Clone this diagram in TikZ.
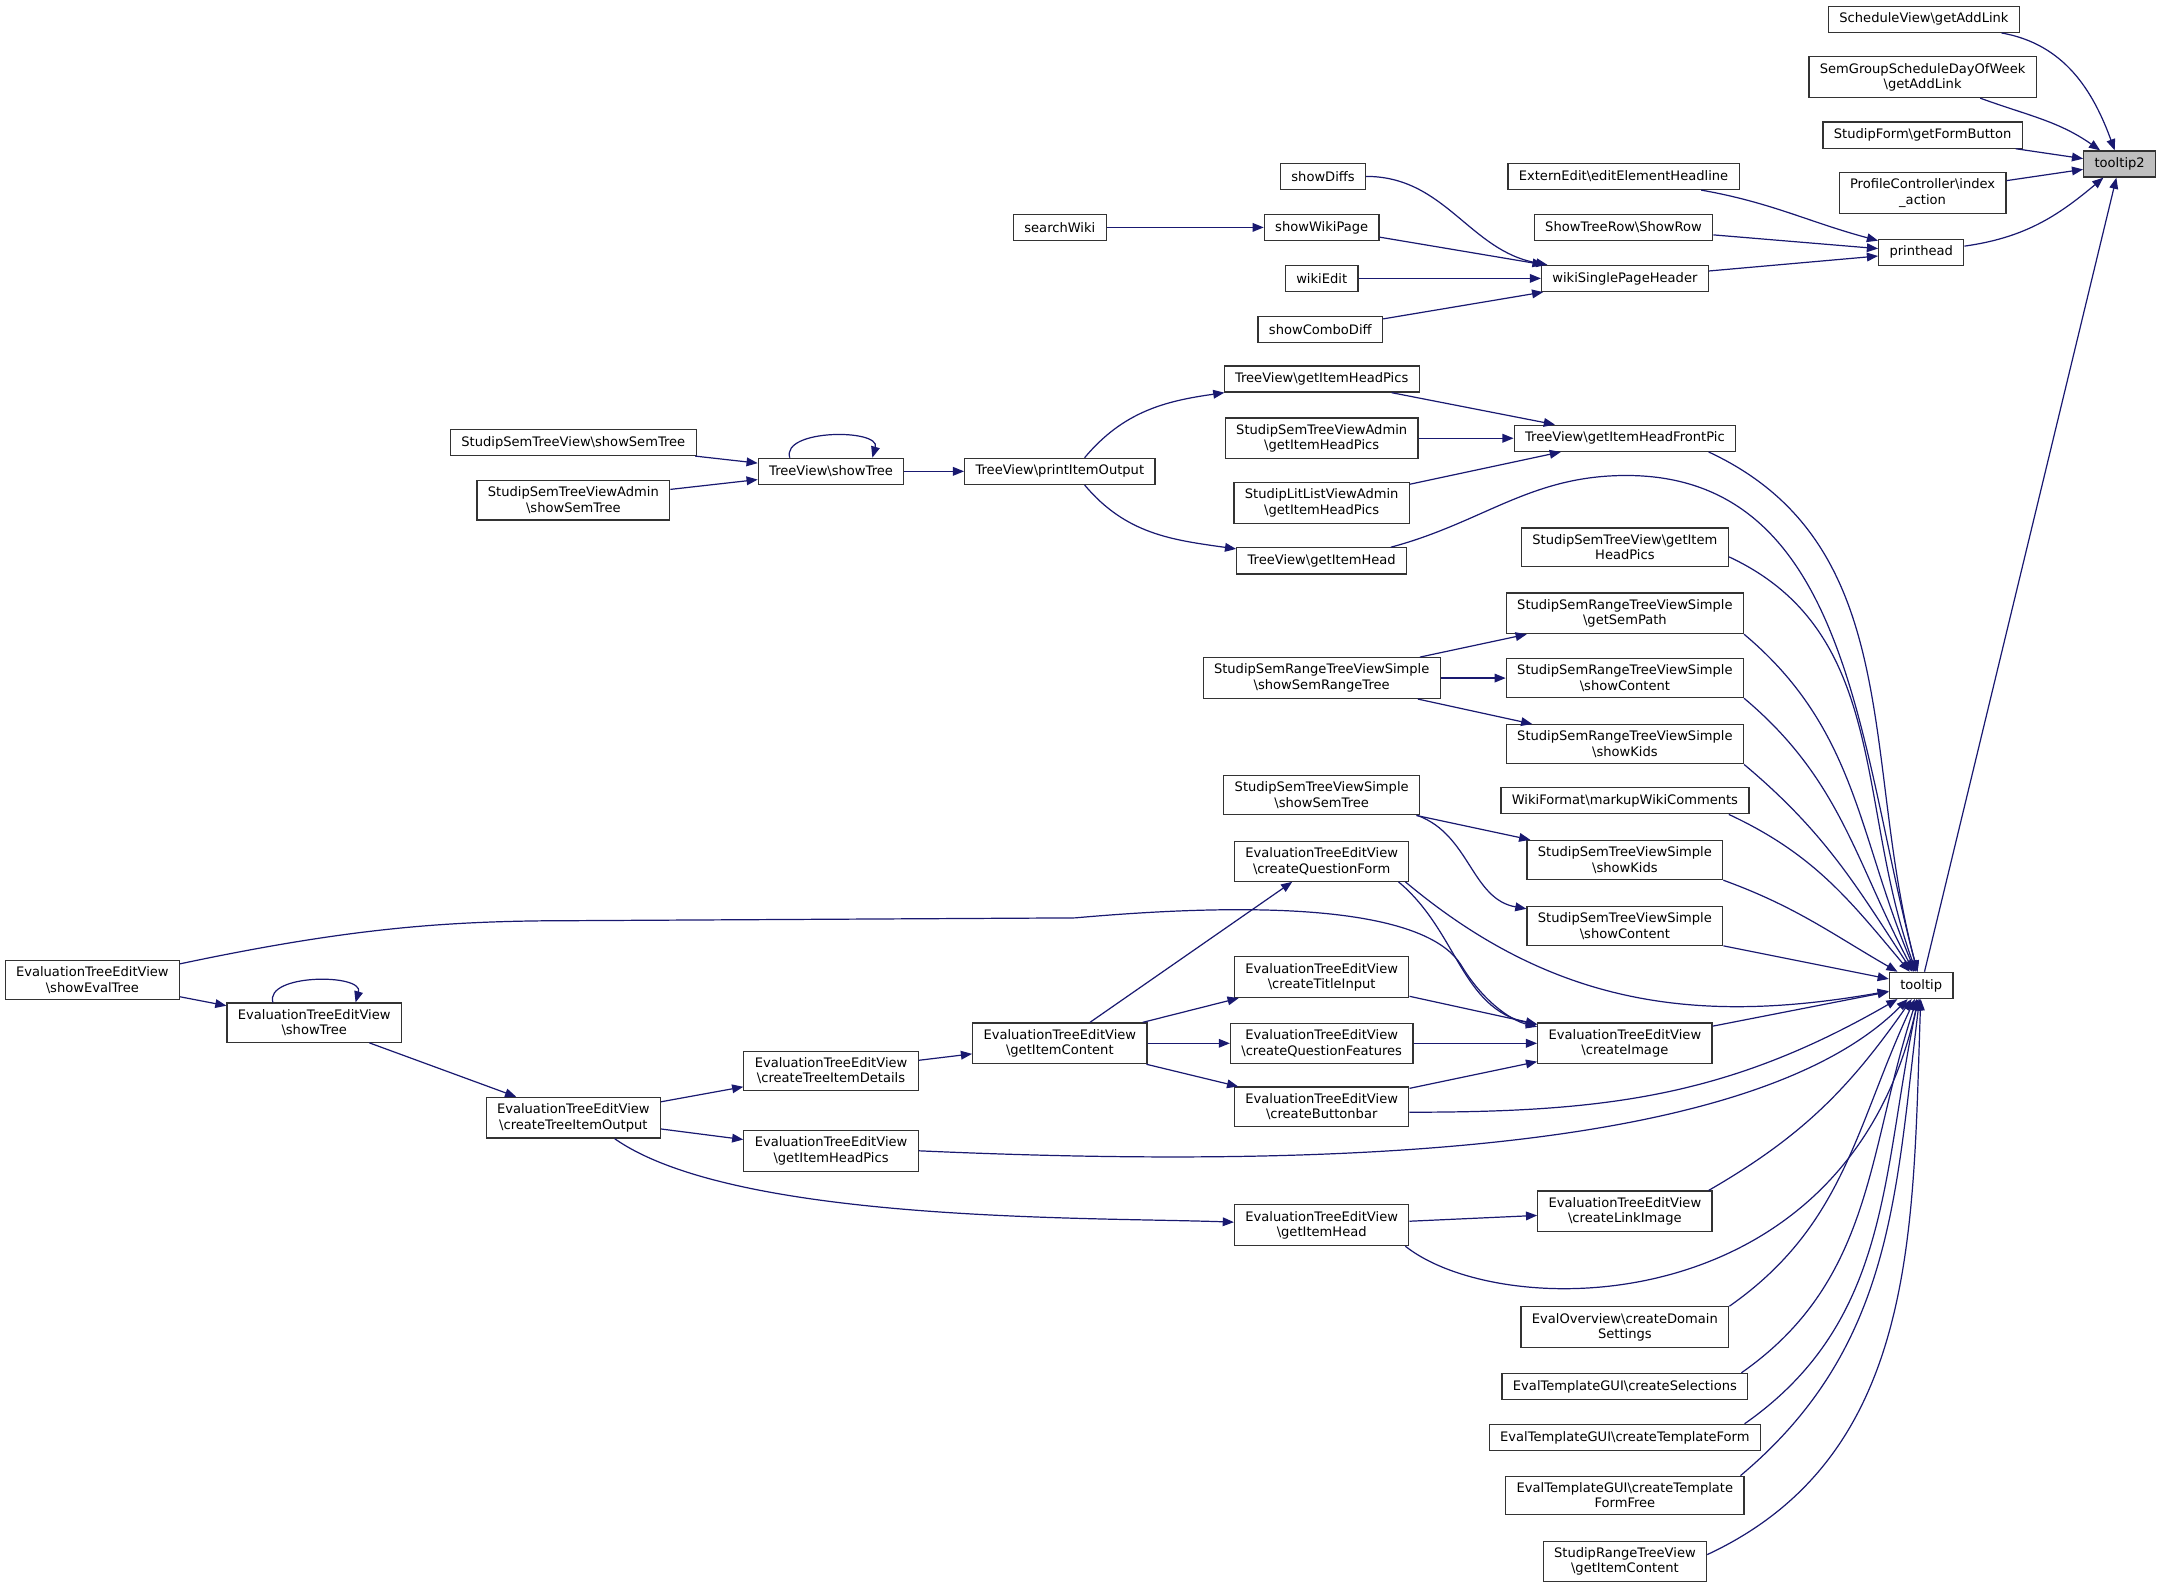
\documentclass[tikz,border=0pt]{standalone}
\usepackage{fontspec}
\setmainfont{DejaVu Sans}
\usepackage{tikz}
\usetikzlibrary{arrows.meta,calc}
\definecolor{edgeblue}{RGB}{25,25,112}
\definecolor{rootgray}{RGB}{191,191,191}

\tikzset{
  fn/.style={draw=black!80, fill=white, line width=0.5pt, font=\fontsize{5.4}{6.4}\selectfont,
    align=center, inner xsep=4.5pt, inner ysep=2.6pt, minimum height=10.8pt},
  root/.style={fn, fill=rootgray},
  call/.style={draw=edgeblue, line width=0.5pt, -{Triangle[length=4.6pt,width=3.6pt]}},
}

\begin{document}
\begin{tikzpicture}[x=0.02cm, y=0.02cm]
    \useasboundingbox (0,0) rectangle (1568,-1153);

    % tooltip2 and its direct callers
    \node[root] (tipii) at (1538,-119) {tooltip2};
    \node[fn] (schedview) at (1396,-14) {ScheduleView\textbackslash getAddLink};
    \node[fn] (semgroup) at (1395,-56) {SemGroupScheduleDayOfWeek\\\textbackslash getAddLink};
    \node[fn] (formbtn) at (1395,-98) {StudipForm\textbackslash getFormButton};
    \node[fn] (profile) at (1395,-140) {ProfileController\textbackslash index\\\_action};
    \node[fn] (printhead) at (1394,-183) {printhead};
    \node[fn] (tip) at (1394,-715) {tooltip};

    % printhead part
    \node[fn] (extern) at (1178,-128) {ExternEdit\textbackslash editElementHeadline};
    \node[fn] (showrow) at (1178,-165) {ShowTreeRow\textbackslash ShowRow};
    \node[fn] (wikihdr) at (1179,-202) {wikiSinglePageHeader};
    \node[fn] (diffs) at (960,-128) {showDiffs};
    \node[fn] (wikipage) at (959,-165) {showWikiPage};
    \node[fn] (wikiedit) at (959,-202) {wikiEdit};
    \node[fn] (combodiff) at (958,-239) {showComboDiff};
    \node[fn] (searchwiki) at (769,-165) {searchWiki};

    % TreeView part
    \node[fn] (tvpics) at (959,-275) {TreeView\textbackslash getItemHeadPics};
    \node[fn] (admpics) at (959,-318) {StudipSemTreeViewAdmin\\\textbackslash getItemHeadPics};
    \node[fn] (frontpic) at (1179,-318) {TreeView\textbackslash getItemHeadFrontPic};
    \node[fn] (litpics) at (959,-365) {StudipLitListViewAdmin\\\textbackslash getItemHeadPics};
    \node[fn] (tvhead) at (959,-407) {TreeView\textbackslash getItemHead};
    \node[fn] (tvoutput) at (769,-342) {TreeView\textbackslash printItemOutput};
    \node[fn] (tvshow) at (603,-342) {TreeView\textbackslash showTree};
    \node[fn] (semtree) at (416,-321) {StudipSemTreeView\textbackslash showSemTree};
    \node[fn] (admtree) at (416,-363) {StudipSemTreeViewAdmin\\\textbackslash showSemTree};

    % Studip range tree and simple tree
    \node[fn] (sempics) at (1179,-397) {StudipSemTreeView\textbackslash getItem\\HeadPics};
    \node[fn] (sempath) at (1179,-445) {StudipSemRangeTreeViewSimple\\\textbackslash getSemPath};
    \node[fn] (rangetree) at (959,-492) {StudipSemRangeTreeViewSimple\\\textbackslash showSemRangeTree};
    \node[fn] (rangecontent) at (1179,-492) {StudipSemRangeTreeViewSimple\\\textbackslash showContent};
    \node[fn] (rangekids) at (1179,-540) {StudipSemRangeTreeViewSimple\\\textbackslash showKids};
    \node[fn] (simpletree) at (959,-577) {StudipSemTreeViewSimple\\\textbackslash showSemTree};
    \node[fn] (markup) at (1179,-581) {WikiFormat\textbackslash markupWikiComments};
    \node[fn] (simplekids) at (1179,-624) {StudipSemTreeViewSimple\\\textbackslash showKids};
    \node[fn] (simplecontent) at (1179,-672) {StudipSemTreeViewSimple\\\textbackslash showContent};

    % EvaluationTreeEditView part
    \node[fn] (qform) at (959,-625) {EvaluationTreeEditView\\\textbackslash createQuestionForm};
    \node[fn] (evaltree) at (67,-711) {EvaluationTreeEditView\\\textbackslash showEvalTree};
    \node[fn] (evalshow) at (228,-742) {EvaluationTreeEditView\\\textbackslash showTree};
    \node[fn] (titleinput) at (959,-709) {EvaluationTreeEditView\\\textbackslash createTitleInput};
    \node[fn] (image) at (1179,-757) {EvaluationTreeEditView\\\textbackslash createImage};
    \node[fn] (content) at (769,-757) {EvaluationTreeEditView\\\textbackslash getItemContent};
    \node[fn] (features) at (959,-757) {EvaluationTreeEditView\\\textbackslash createQuestionFeatures};
    \node[fn] (details) at (603,-777) {EvaluationTreeEditView\\\textbackslash createTreeItemDetails};
    \node[fn] (buttonbar) at (959,-803) {EvaluationTreeEditView\\\textbackslash createButtonbar};
    \node[fn] (output) at (416,-811) {EvaluationTreeEditView\\\textbackslash createTreeItemOutput};
    \node[fn] (evalpics) at (603,-835) {EvaluationTreeEditView\\\textbackslash getItemHeadPics};
    \node[fn] (linkimage) at (1179,-879) {EvaluationTreeEditView\\\textbackslash createLinkImage};
    \node[fn] (evalhead) at (959,-889) {EvaluationTreeEditView\\\textbackslash getItemHead};

    % Eval templates
    \node[fn] (domain) at (1179,-963) {EvalOverview\textbackslash createDomain\\Settings};
    \node[fn] (selections) at (1179,-1006) {EvalTemplateGUI\textbackslash createSelections};
    \node[fn] (tplform) at (1179,-1043) {EvalTemplateGUI\textbackslash createTemplateForm};
    \node[fn] (tplfree) at (1179,-1085) {EvalTemplateGUI\textbackslash createTemplate\\FormFree};
    \node[fn] (rangeitem) at (1179,-1133) {StudipRangeTreeView\\\textbackslash getItemContent};

    % calls into tooltip2
    \draw[call] (schedview) to[out=-10,in=110] (tipii);
    \draw[call] (semgroup) to[out=-20,in=145] (tipii);
    \draw[call] (formbtn) -- (tipii);
    \draw[call] (profile) -- (tipii);
    \draw[call] (printhead) to[out=8,in=-140] (tipii);
    \draw[call] (tip) -- (tipii);

    % calls into printhead
    \draw[call] (extern) to[out=-10,in=165] (printhead);
    \draw[call] (showrow) -- (printhead);
    \draw[call] (wikihdr) -- (printhead);
    \draw[call] (diffs) to[out=0,in=170] (wikihdr);
    \draw[call] (wikipage) -- (wikihdr);
    \draw[call] (wikiedit) -- (wikihdr);
    \draw[call] (combodiff) -- (wikihdr);
    \draw[call] (searchwiki) -- (wikipage);

    % TreeView calls
    \draw[call] (tvpics) -- (frontpic);
    \draw[call] (admpics) -- (frontpic);
    \draw[call] (litpics) -- (frontpic);
    \draw[call] ($(tvoutput.north)+(18,0)$) to[out=50,in=-172] (tvpics);
    \draw[call] ($(tvoutput.south)+(18,0)$) to[out=-50,in=172] (tvhead);
    \draw[call] (tvshow) -- (tvoutput);
    \draw[call] ($(tvshow.north)+(-30,0)$) .. controls +(-6,21) and +(6,21) .. ($(tvshow.north)+(30,0)$);
    \draw[call] (semtree) -- (tvshow);
    \draw[call] (admtree) -- (tvshow);

    % range tree and simple tree calls
    \draw[call] (rangetree) -- (sempath);
    \draw[call] (rangetree) -- (rangecontent);
    \draw[call] (rangetree) -- (rangekids);
    \draw[call] (simpletree) -- (simplekids);
    \draw[call] ($(simpletree.south east)+(-2,0)$) to[out=-20,in=170] (simplecontent);

    % calls into tooltip from above
    \draw[call] ($(frontpic.south east)+(-20,0)$) to[out=-25,in=105] (tip);
    \draw[call] ($(tvhead.north east)+(-12,0)$) to[out=15,in=180] (1180,-345) to[out=0,in=105] (tip);
    \draw[call] ($(sempics.east)+(0,-7)$) to[out=-25,in=110] (tip);
    \draw[call] (sempath.south east) to[out=-40,in=113] (tip);
    \draw[call] (rangecontent.south east) to[out=-40,in=118] (tip);
    \draw[call] (rangekids.south east) to[out=-40,in=123] (tip);
    \draw[call] ($(markup.south east)+(-15,0)$) to[out=-25,in=130] (tip);
    \draw[call] (simplekids.south east) to[out=-20,in=150] (tip);
    \draw[call] (simplecontent) -- (tip);

    % createImage calls
    \draw[call] ($(qform.south east)+(-8,0)$) to[out=-40,in=168] (image);
    \draw[call] ($(qform.south east)+(-3,0)$) to[out=-40,in=190] (tip);
    \draw[call] ($(evaltree.north east)+(0,-3)$) .. controls (260,-672) and (330,-668) .. (420,-668)
        -- (780,-666) .. controls (960,-650) and (1040,-668) .. (1060,-700)
        .. controls (1075,-725) and (1095,-740) .. ($(image.west)+(0,12)$);
    \draw[call] (titleinput) -- (image);
    \draw[call] (features) -- (image);
    \draw[call] (buttonbar) -- (image);
    \draw[call] (image) -- (tip);
    \draw[call] ($(buttonbar.east)+(0,-4)$) to[out=0,in=-150] (tip);

    % getItemContent and tree output calls
    \draw[call] (content) -- (qform);
    \draw[call] (content) -- (titleinput);
    \draw[call] (content) -- (features);
    \draw[call] (content) -- (buttonbar);
    \draw[call] (details) -- (content);
    \draw[call] (output) -- (details);
    \draw[call] (output) -- (evalpics);
    \draw[call] ($(output.south)+(30,0)$) to[out=-35,in=178,looseness=0.6] (evalhead);
    \draw[call] (evalshow) -- (output);
    \draw[call] ($(evalshow.north)+(-30,0)$) .. controls +(-6,21) and +(6,21) .. ($(evalshow.north)+(30,0)$);
    \draw[call] (evaltree) -- (evalshow);
    \draw[call] (evalpics.east) .. controls (1000,-850) and (1280,-830) .. (tip);
    \draw[call] (evalhead) -- (linkimage);
    \draw[call] ($(linkimage.north east)+(-3,0)$) to[out=30,in=-125] (tip);
    \draw[call] ($(evalhead.south east)+(-3,0)$) .. controls (1090,-960) and (1340,-960) .. (tip);

    % calls into tooltip from below
    \draw[call] (domain.north east) to[out=35,in=-115] (tip);
    \draw[call] ($(selections.north east)+(-5,0)$) to[out=35,in=-108] (tip);
    \draw[call] ($(tplform.north east)+(-12,0)$) to[out=35,in=-102] (tip);
    \draw[call] ($(tplfree.north east)+(-3,0)$) to[out=40,in=-97] (tip);
    \draw[call] ($(rangeitem.east)+(0,5)$) to[out=25,in=-92] (tip);
\end{tikzpicture}
\end{document}
